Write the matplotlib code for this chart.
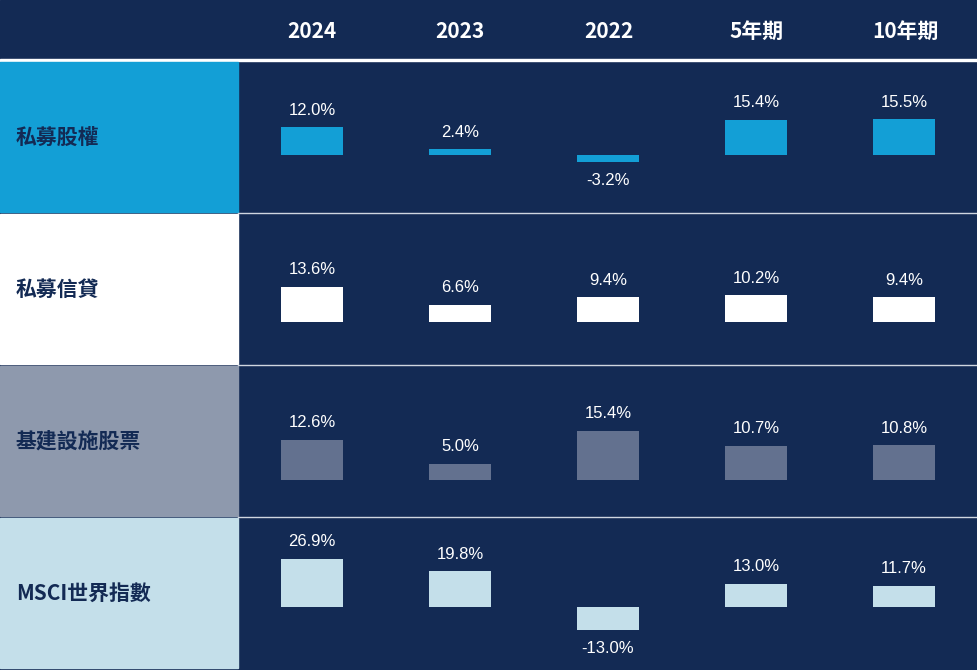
import matplotlib
matplotlib.use("Agg")
import matplotlib.pyplot as plt
from matplotlib.patches import Rectangle

columns = ["2024", "2023", "2022", "5年期", "10年期"]
rows = ["私募股權", "私募信貸", "基建設施股票", "MSCI世界指數"]
private_equity = [12.0, 2.4, -3.2, 15.4, 15.5]
private_credit = [13.6, 6.6, 9.4, 10.2, 9.4]
infrastructure = [12.6, 5.0, 15.4, 10.7, 10.8]
msci_world = [26.9, 19.8, -13.0, 13.0, 11.7]
series = [private_equity, private_credit, infrastructure, msci_world]

navy = "#132a54"
label_bg = ["#139fd6", "#ffffff", "#8e99ad", "#c4dfea"]
bar_col = ["#139fd6", "#ffffff", "#63718f", "#c4dfea"]
ylims = [(-24.8, 40.4), (-16.2, 41.5), (-11.25, 35.6), (-33.9, 49.4)]
font = "Noto Sans CJK TC"

W, H = 978, 670
fig = plt.figure(figsize=(W/100, H/100), dpi=100, facecolor="white")
bg = fig.add_axes([0, 0, 1, 1])
bg.set_xlim(0, W); bg.set_ylim(H, 0); bg.axis("off")
bg.add_patch(Rectangle((0, 0), W, H, color=navy))
bg.add_patch(Rectangle((0, 59), W, 2, color="white"))
centers = [312, 460, 609, 757, 905]
for c, t in zip(centers, columns):
    bg.text(c, 31, t, color="white", fontsize=15, fontweight="bold",
            ha="center", va="center", family=font)

tops = [62, 214, 366, 518]
for i, (top, name) in enumerate(zip(tops, rows)):
    bg.add_patch(Rectangle((0, top), 238, 150, color=label_bg[i]))
    if i > 0:
        bg.plot([238, W], [top - 1, top - 1], color="#d0d6e0", lw=1)
    bg.text(16, top + 75, name, color=navy, fontsize=15, fontweight="bold",
            ha="left", va="center", family=font)
    ax = fig.add_axes([238/W, 1 - (top + 150)/H, (W - 238)/W, 150/H])
    ax.set_xlim(-0.5, 4.5); ax.set_ylim(*ylims[i]); ax.axis("off")
    vals = series[i]
    ax.bar(range(5), vals, width=0.42, color=bar_col[i])
    for x, v in enumerate(vals):
        off = 7 if v >= 0 else -8
        ax.annotate(f"{v:.1f}%", (x, v), xytext=(0, off), textcoords="offset points",
                    ha="center", va="bottom" if v >= 0 else "top",
                    color="white", fontsize=12, family="Liberation Sans")

fig.savefig("out.png", dpi=100)
